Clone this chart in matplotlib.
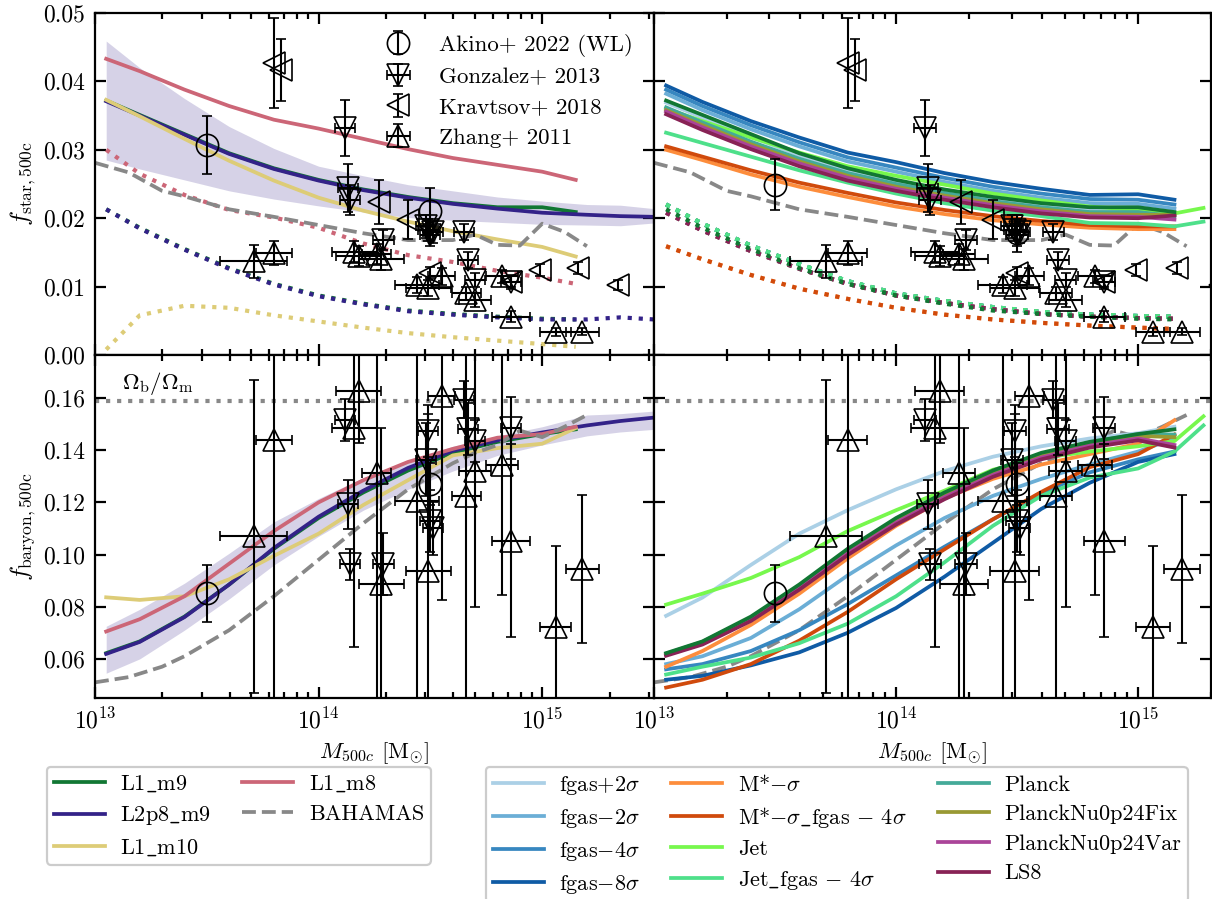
import numpy as np
import matplotlib.pyplot as plt
from matplotlib.ticker import FormatStrFormatter, LogLocator, NullFormatter

plt.rcParams.update({
    'font.family': 'serif',
    'font.serif': ['cmr10', 'DejaVu Serif'],
    'mathtext.fontset': 'cm',
    'axes.formatter.use_mathtext': True,
    'font.size': 16.5,
    'axes.linewidth': 1.6,
})

# ---------------- simulation curves (log10 M500c grids) ----------------
lm_a = [13.05, 13.2, 13.4, 13.6, 13.8, 14.0, 14.2, 14.4, 14.6, 14.8, 15.0, 15.15]
lm_jet = [13.05, 13.2, 13.4, 13.6, 13.8, 14.0, 14.2, 14.4, 14.6, 14.8, 15.0, 15.15, 15.27]
lm_l2p8 = [13.05, 13.2, 13.4, 13.6, 13.8, 14.0, 14.2, 14.4, 14.6, 14.8, 15.0, 15.2, 15.35, 15.5]
lm_bah = [13.0, 13.15, 13.3, 13.4, 13.6, 13.8, 14.0, 14.2, 14.4, 14.6, 14.7, 14.8, 14.9, 15.0, 15.1, 15.2]

# left panel models
l1m9_fstar = [0.0372, 0.0351, 0.0323, 0.0295, 0.0273, 0.0256, 0.0242, 0.0231, 0.0222, 0.0216, 0.0216, 0.0209]
l1m9_fstar_dot = [0.0213, 0.0186, 0.0155, 0.0127, 0.0104, 0.0087, 0.0075, 0.0065, 0.0060, 0.0056, 0.0053, 0.0052]
l1m9_fb = [0.0622, 0.0667, 0.0762, 0.0885, 0.1022, 0.1140, 0.1238, 0.1322, 0.1390, 0.1432, 0.1462, 0.1480]

l2p8_fstar = [0.0371, 0.0350, 0.0322, 0.0294, 0.0272, 0.0255, 0.0241, 0.0230, 0.0221, 0.0214, 0.0208, 0.0205, 0.0203, 0.0202]
l2p8_fstar_dot = [0.0213, 0.0185, 0.0154, 0.0126, 0.0103, 0.0086, 0.0074, 0.0064, 0.0059, 0.0055, 0.0052, 0.0052, 0.0055, 0.0052]
l2p8_fb = [0.0619, 0.0665, 0.0760, 0.0885, 0.1025, 0.1145, 0.1245, 0.1332, 0.1398, 0.1438, 0.1468, 0.1495, 0.1512, 0.1525]
l2p8_fstar_hi = [0.0459, 0.0420, 0.0375, 0.0334, 0.0302, 0.0276, 0.0262, 0.0249, 0.0240, 0.0231, 0.0225, 0.0220, 0.0219, 0.0214]
l2p8_fstar_lo = [0.0285, 0.0272, 0.0256, 0.0240, 0.0228, 0.0218, 0.0209, 0.0201, 0.0197, 0.0194, 0.0191, 0.0190, 0.0189, 0.0193]
l2p8_fb_hi = [0.0725, 0.0790, 0.0890, 0.1005, 0.1125, 0.1215, 0.1295, 0.1360, 0.1415, 0.1455, 0.1490, 0.1535, 0.1540, 0.1550]
l2p8_fb_lo = [0.0545, 0.0600, 0.0710, 0.0830, 0.0960, 0.1070, 0.1170, 0.1250, 0.1320, 0.1380, 0.1420, 0.1455, 0.1470, 0.1480]

l1m10_fstar = [0.0373, 0.0349, 0.0316, 0.0284, 0.0255, 0.0230, 0.0211, 0.0195, 0.0181, 0.0169, 0.0158, 0.0144]
l1m10_fstar_dot = [0.0008, 0.0058, 0.0072, 0.0069, 0.0058, 0.0049, 0.0040, 0.0032, 0.0026, 0.0021, 0.0016, 0.0012]
l1m10_fb = [0.0836, 0.0826, 0.0840, 0.0905, 0.0995, 0.1080, 0.1190, 0.1285, 0.1380, 0.1408, 0.1425, 0.1485]

l1m8_fstar = [0.0433, 0.0415, 0.0388, 0.0364, 0.0344, 0.0331, 0.0316, 0.0301, 0.0288, 0.0278, 0.0268, 0.0256]
l1m8_fstar_dot = [0.0300, 0.0265, 0.0234, 0.0212, 0.0201, 0.0186, 0.0163, 0.0146, 0.0136, 0.0123, 0.0113, 0.0104]
l1m8_fb = [0.0705, 0.0752, 0.0840, 0.0965, 0.1090, 0.1200, 0.1285, 0.1355, 0.1405, 0.1448, 0.1462, 0.1490]

bah_fstar = [0.0281, 0.0267, 0.0240, 0.0232, 0.0213, 0.0202, 0.0190, 0.0178, 0.0168, 0.0168, 0.0176, 0.0161, 0.0160, 0.0192, 0.0180, 0.0159]
bah_fb = [0.051, 0.053, 0.057, 0.061, 0.071, 0.084, 0.098, 0.112, 0.125, 0.135, 0.139, 0.142, 0.1475, 0.145, 0.149, 0.1535]

# right panel model variations
fgas_p2_fstar = [0.0369, 0.0347, 0.0319, 0.0292, 0.0270, 0.0253, 0.0239, 0.0228, 0.0219, 0.0212, 0.0212, 0.0206]
fgas_p2_fb = [0.0765, 0.0835, 0.0960, 0.1080, 0.1170, 0.1250, 0.1320, 0.1375, 0.1415, 0.1445, 0.1465, 0.1490]
fgas_m2_fstar = [0.0382, 0.0358, 0.0330, 0.0305, 0.0283, 0.0268, 0.0253, 0.0240, 0.0230, 0.0222, 0.0221, 0.0214]
fgas_m2_fb = [0.0580, 0.0610, 0.0680, 0.0790, 0.0920, 0.1035, 0.1140, 0.1225, 0.1290, 0.1345, 0.1395, 0.1445]
fgas_m4_fstar = [0.0388, 0.0364, 0.0336, 0.0311, 0.0289, 0.0274, 0.0259, 0.0246, 0.0236, 0.0228, 0.0227, 0.0220]
fgas_m4_fb = [0.0560, 0.0580, 0.0630, 0.0710, 0.0810, 0.0920, 0.1030, 0.1135, 0.1235, 0.1315, 0.1365, 0.1395]
fgas_m8_fstar = [0.0394, 0.0370, 0.0342, 0.0318, 0.0296, 0.0282, 0.0266, 0.0253, 0.0243, 0.0234, 0.0235, 0.0227]
fgas_m8_fb = [0.0520, 0.0535, 0.0575, 0.0625, 0.0700, 0.0795, 0.0915, 0.1045, 0.1175, 0.1275, 0.1355, 0.1385]
mstar_fstar = [0.0300, 0.0285, 0.0264, 0.0246, 0.0231, 0.0217, 0.0206, 0.0197, 0.0191, 0.0186, 0.0184, 0.0184]
mstar_fb = [0.0570, 0.0630, 0.0730, 0.0850, 0.0985, 0.1110, 0.1215, 0.1290, 0.1345, 0.1385, 0.1425, 0.1515]
mstar_fgas_fstar = [0.0305, 0.0290, 0.0270, 0.0252, 0.0237, 0.0223, 0.0212, 0.0203, 0.0196, 0.0190, 0.0188, 0.0188]
mstar_fgas_fb = [0.0490, 0.0520, 0.0580, 0.0670, 0.0780, 0.0905, 0.1020, 0.1135, 0.1240, 0.1335, 0.1385, 0.1460]
jet_fstar = [0.0360, 0.0342, 0.0318, 0.0296, 0.0276, 0.0262, 0.0249, 0.0236, 0.0226, 0.0217, 0.0212, 0.0207, 0.0215]
jet_fb = [0.0808, 0.0850, 0.0910, 0.0990, 0.1090, 0.1170, 0.1245, 0.1325, 0.1370, 0.1395, 0.1415, 0.1435, 0.1530]
jet_fgas_fstar = [0.0325, 0.0310, 0.0290, 0.0270, 0.0252, 0.0236, 0.0222, 0.0211, 0.0203, 0.0193, 0.0192, 0.0188, 0.0195]
jet_fgas_fb = [0.0540, 0.0570, 0.0605, 0.0660, 0.0735, 0.0840, 0.0970, 0.1110, 0.1225, 0.1295, 0.1330, 0.1395, 0.1495]
planck_fstar = [0.0362, 0.0340, 0.0312, 0.0287, 0.0266, 0.0250, 0.0237, 0.0225, 0.0216, 0.0209, 0.0209, 0.0203]
planck_fb = [0.0620, 0.0665, 0.0758, 0.0880, 0.1018, 0.1135, 0.1232, 0.1318, 0.1385, 0.1430, 0.1462, 0.1460]
nufix_fstar = [0.0358, 0.0336, 0.0308, 0.0283, 0.0262, 0.0246, 0.0233, 0.0222, 0.0213, 0.0206, 0.0205, 0.0205]
nufix_fb = [0.0618, 0.0662, 0.0755, 0.0876, 0.1012, 0.1130, 0.1228, 0.1312, 0.1380, 0.1425, 0.1455, 0.1450]
nuvar_fstar = [0.0356, 0.0333, 0.0305, 0.0280, 0.0259, 0.0243, 0.0230, 0.0219, 0.0210, 0.0203, 0.0202, 0.0198]
nuvar_fb = [0.0615, 0.0658, 0.0750, 0.0870, 0.1005, 0.1122, 0.1220, 0.1305, 0.1372, 0.1418, 0.1445, 0.1420]
ls8_fstar = [0.0352, 0.0329, 0.0301, 0.0276, 0.0255, 0.0240, 0.0227, 0.0216, 0.0207, 0.0201, 0.0200, 0.0204]
ls8_fb = [0.0612, 0.0655, 0.0745, 0.0865, 0.0998, 0.1115, 0.1212, 0.1298, 0.1365, 0.1410, 0.1438, 0.1410]

dot_blue = [0.0220, 0.0192, 0.0160, 0.0133, 0.0108, 0.0090, 0.0079, 0.0070, 0.0063, 0.0059, 0.0057, 0.0056]
dot_purple = [0.0208, 0.0182, 0.0152, 0.0126, 0.0104, 0.0087, 0.0076, 0.0067, 0.0060, 0.0056, 0.0054, 0.0053]
dot_orange = [0.0159, 0.0140, 0.0117, 0.0097, 0.0082, 0.0069, 0.0059, 0.0052, 0.0047, 0.0043, 0.0040, 0.0038]

# ---------------- observations ----------------
akino_lm = [13.50, 14.50]
akino_fstar_l = [0.0307, 0.0210]
akino_fstar_l_err = [0.0043, 0.0034]
akino_fstar_r = [0.0249, 0.0178]
akino_fstar_r_err = [0.0037, 0.0027]
akino_fb = [0.0851, 0.1271]
akino_fb_err = [0.011, 0.008]

gonz_lm = [14.12, 14.13, 14.14, 14.29, 14.48, 14.49, 14.50, 14.51, 14.65, 14.67, 14.70, 14.86]
gonz_dex = [0.045, 0.045, 0.045, 0.045, 0.045, 0.045, 0.045, 0.045, 0.045, 0.045, 0.045, 0.045]
gonz_fstar = [0.0332, 0.0244, 0.0227, 0.0168, 0.0188, 0.0183, 0.0175, 0.0180, 0.0180, 0.0139, 0.0110, 0.0107]
gonz_fstar_err = [0.0041, 0.0035, 0.0022, 0.0015, 0.0017, 0.0016, 0.0015, 0.0016, 0.0012, 0.0012, 0.0010, 0.0010]
gonz_fb = [0.1517, 0.1192, 0.0963, 0.0963, 0.1364, 0.1473, 0.1129, 0.1100, 0.1594, 0.1480, 0.1435, 0.1485]
gonz_fb_err = [0.008, 0.0095, 0.006, 0.012, 0.014, 0.010, 0.012, 0.010, 0.007, 0.010, 0.008, 0.012]

krav_lm = [13.80, 13.83, 14.27, 14.40, 14.50, 14.86, 14.99, 15.16, 15.34]
krav_fstar = [0.0427, 0.0417, 0.0224, 0.0198, 0.0120, 0.0107, 0.0124, 0.0127, 0.0102]
krav_fstar_err = [0.0066, 0.0045, 0.0032, 0.0028, 0.0008, 0.0008, 0.0009, 0.0009, 0.0007]

zhang_lm = [13.71, 13.80, 14.16, 14.18, 14.26, 14.28, 14.44, 14.49, 14.55, 14.66, 14.70, 14.82, 14.86, 15.06, 15.18]
zhang_dex = [0.15, 0.08, 0.10, 0.10, 0.065, 0.10, 0.10, 0.10, 0.06, 0.065, 0.07, 0.07, 0.085, 0.07, 0.075]
zhang_fstar = [0.0137, 0.0149, 0.0151, 0.0145, 0.0148, 0.0140, 0.0102, 0.0098, 0.0115, 0.0090, 0.0080, 0.0115, 0.0056, 0.0034, 0.0034]
zhang_fstar_err = [0.0024, 0.0018, 0.0015, 0.0015, 0.0015, 0.0015, 0.0012, 0.0012, 0.0012, 0.0010, 0.0010, 0.0010, 0.0008, 0.0006, 0.0005]
zhang_fb = [0.107, 0.144, 0.1485, 0.1626, 0.1313, 0.0887, 0.1205, 0.0937, 0.1606, 0.1224, 0.132, 0.1345, 0.1052, 0.0721, 0.0944]
zhang_fb_err = [0.06, 0.10, 0.084, 0.02, 0.09, 0.06, 0.08, 0.06, 0.078, 0.08, 0.052, 0.05, 0.037, 0.031, 0.0285]

omega_b_over_m = 0.159

FS = 16.5


def mass(lm):
    return 10 ** np.asarray(lm)


def xerr_from_dex(lm, dex):
    m = mass(lm)
    d = np.asarray(dex)
    return [m - m * 10 ** (-d), m * 10 ** d - m]


fig = plt.figure(figsize=(12.12, 8.99), dpi=100)
W, H = 1212, 899
axTL = fig.add_axes([95 / W, 1 - 355 / H, 559 / W, 342 / H])
axTR = fig.add_axes([654 / W, 1 - 355 / H, 557 / W, 342 / H])
axBL = fig.add_axes([95 / W, 1 - 698 / H, 559 / W, 343 / H])
axBR = fig.add_axes([654 / W, 1 - 698 / H, 557 / W, 343 / H])

LW = 2.7
c_l1m9, c_l2p8, c_l1m10, c_l1m8, c_bah = '#117733', '#332288', '#ddcc77', '#cc6677', '#888888'

# ---- left panels ----
axTL.fill_between(mass(lm_l2p8), l2p8_fstar_lo, l2p8_fstar_hi, color=c_l2p8, alpha=0.2, lw=0)
axBL.fill_between(mass(lm_l2p8), l2p8_fb_lo, l2p8_fb_hi, color=c_l2p8, alpha=0.2, lw=0)

left_models = [
    ('L1$\\_$m9', c_l1m9, lm_a, l1m9_fstar, l1m9_fstar_dot, l1m9_fb),
    ('L2p8$\\_$m9', c_l2p8, lm_l2p8, l2p8_fstar, l2p8_fstar_dot, l2p8_fb),
    ('L1$\\_$m10', c_l1m10, lm_a, l1m10_fstar, l1m10_fstar_dot, l1m10_fb),
    ('L1$\\_$m8', c_l1m8, lm_a, l1m8_fstar, l1m8_fstar_dot, l1m8_fb),
]
left_handles = []
for label, col, lm, fs, fsd, fb in left_models:
    h, = axTL.plot(mass(lm), fs, color=col, lw=LW, label=label)
    axTL.plot(mass(lm), fsd, color=col, lw=3, ls=':')
    axBL.plot(mass(lm), fb, color=col, lw=LW)
    left_handles.append(h)

for ax in (axTL, axTR):
    hb, = ax.plot(mass(lm_bah), bah_fstar, color=c_bah, lw=LW, ls='--', label='BAHAMAS')
for ax in (axBL, axBR):
    ax.plot(mass(lm_bah), bah_fb, color=c_bah, lw=LW, ls='--')
left_handles.append(hb)

# ---- right panels ----
right_models = [
    ('fgas$+2\\sigma$', '#abd0e6', lm_a, fgas_p2_fstar, dot_blue, fgas_p2_fb),
    ('fgas$-2\\sigma$', '#6baed6', lm_a, fgas_m2_fstar, dot_blue, fgas_m2_fb),
    ('fgas$-4\\sigma$', '#3787c0', lm_a, fgas_m4_fstar, dot_blue, fgas_m4_fb),
    ('fgas$-8\\sigma$', '#0f5ba5', lm_a, fgas_m8_fstar, dot_blue, fgas_m8_fb),
    ('M*$-\\sigma$', '#fd8d3c', lm_a, mstar_fstar, dot_orange, mstar_fb),
    ('M*$-\\sigma\\_$fgas $-$ $4\\sigma$', '#d04a0c', lm_a, mstar_fgas_fstar, dot_orange, mstar_fgas_fb),
    ('Jet', '#77f84d', lm_jet, jet_fstar, dot_blue, jet_fb),
    ('Jet$\\_$fgas $-$ $4\\sigma$', '#4ee08a', lm_jet, jet_fgas_fstar, dot_blue, jet_fgas_fb),
    ('Planck', '#44aa99', lm_a, planck_fstar, dot_purple, planck_fb),
    ('PlanckNu0p24Fix', '#999933', lm_a, nufix_fstar, dot_purple, nufix_fb),
    ('PlanckNu0p24Var', '#aa4499', lm_a, nuvar_fstar, dot_purple, nuvar_fb),
    ('LS8', '#882255', lm_a, ls8_fstar, dot_purple, ls8_fb),
]
right_handles = []
for label, col, lm, fs, fsd, fb in right_models:
    h, = axTR.plot(mass(lm), fs, color=col, lw=LW, label=label)
    axTR.plot(mass(lm_a), fsd, color=col, lw=3, ls=':')
    axBR.plot(mass(lm), fb, color=col, lw=LW)
    right_handles.append(h)
axTR.plot(mass(lm_a), l1m9_fstar, color=c_l1m9, lw=LW)
axTR.plot(mass(lm_a), l1m9_fstar_dot, color=c_l1m9, lw=3, ls=':')
axBR.plot(mass(lm_a), l1m9_fb, color=c_l1m9, lw=LW)

# ---- baryon fraction of the universe ----
for ax in (axBL, axBR):
    ax.axhline(omega_b_over_m, color='#888888', lw=3, ls=':', zorder=1)
axBL.text(0.048, 0.918, r'$\Omega_{\rm b}/\Omega_{\rm m}$', transform=axBL.transAxes,
          ha='left', va='center', fontsize=FS)


# ---- observations ----
def draw_obs(ax, lm, y, yerr, marker, label=None, dex=None):
    xerr = xerr_from_dex(lm, dex) if dex is not None else None
    return ax.errorbar(mass(lm), y, yerr=yerr, xerr=xerr, marker=marker, color='black',
                       ls='none', mfc='none', mec='black', mew=1.2, ms=16,
                       elinewidth=1.5, capsize=3.5, capthick=1.5, zorder=6, label=label)


obs_handles = []
for ax, ak_fs, ak_err in ((axTL, akino_fstar_l, akino_fstar_l_err), (axTR, akino_fstar_r, akino_fstar_r_err)):
    hs = [draw_obs(ax, akino_lm, ak_fs, ak_err, 'o', 'Akino+ 2022 (WL)'),
          draw_obs(ax, gonz_lm, gonz_fstar, gonz_fstar_err, 'v', 'Gonzalez+ 2013', gonz_dex),
          draw_obs(ax, krav_lm, krav_fstar, krav_fstar_err, '<', 'Kravtsov+ 2018'),
          draw_obs(ax, zhang_lm, zhang_fstar, zhang_fstar_err, '^', 'Zhang+ 2011', zhang_dex)]
    if ax is axTL:
        obs_handles = hs
for ax in (axBL, axBR):
    draw_obs(ax, akino_lm, akino_fb, akino_fb_err, 'o')
    draw_obs(ax, gonz_lm, gonz_fb, gonz_fb_err, 'v', dex=gonz_dex)
    draw_obs(ax, zhang_lm, zhang_fb, zhang_fb_err, '^', dex=zhang_dex)

axTL.legend(handles=obs_handles, loc='upper right', frameon=False, fontsize=FS, labelspacing=0.45)

# ---- axes formatting ----
for ax in (axTL, axTR, axBL, axBR):
    ax.set_xscale('log')
    ax.tick_params(which='both', direction='in', top=True, right=True, width=1.6)
    ax.tick_params(which='major', length=8, labelsize=17, pad=7)
    ax.tick_params(which='minor', length=4)
    ax.xaxis.set_minor_locator(LogLocator(base=10, subs=np.arange(2, 10), numticks=20))
    ax.xaxis.set_minor_formatter(NullFormatter())

for ax in (axTL, axBL):
    ax.set_xlim(1e13, 10 ** 15.5)
for ax in (axTR, axBR):
    ax.set_xlim(1e13, 2e15)
    ax.tick_params(labelleft=False)
for ax in (axTL, axTR):
    ax.set_ylim(0, 0.05)
    ax.set_yticks([0.0, 0.01, 0.02, 0.03, 0.04, 0.05])
    ax.tick_params(labelbottom=False)
for ax in (axBL, axBR):
    ax.set_ylim(0.045, 0.1765)
    ax.set_yticks([0.06, 0.08, 0.10, 0.12, 0.14, 0.16])
    ax.set_xlabel(r'$M_{500c}$ [M$_{\odot}$]', fontsize=FS, labelpad=5)
axTL.yaxis.set_major_formatter(FormatStrFormatter('%.2f'))
axBL.yaxis.set_major_formatter(FormatStrFormatter('%.2f'))
axTL.set_ylabel(r'$f_{\rm star,500c}$', fontsize=18)
axBL.set_ylabel(r'$f_{\rm baryon,500c}$', fontsize=18)

# ---- bottom legends ----
leg_kw = dict(loc='upper left', fontsize=16, frameon=True, fancybox=True, framealpha=1,
              edgecolor='#cccccc', handlelength=2.3, handletextpad=0.7, columnspacing=1.4,
              borderpad=0.3, borderaxespad=0, labelspacing=0.45)
legL = fig.legend(handles=left_handles, ncol=2, bbox_to_anchor=(47 / W, 1 - 767 / H), **leg_kw)
legR = fig.legend(handles=right_handles, ncol=3, bbox_to_anchor=(486 / W, 1 - 767 / H), **leg_kw)
for leg in (legL, legR):
    leg.get_frame().set_linewidth(1.6)

fig.savefig('out.png', dpi=100)
